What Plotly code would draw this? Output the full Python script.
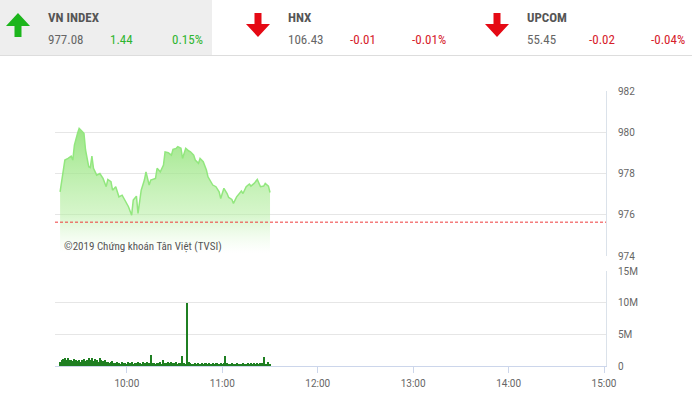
import plotly.graph_objects as go
import pandas as pd

W, H = 692, 396
DAY = "2019-05-20 "

# ---------------- data ----------------
index_times = ["09:18","09:21","09:23","09:25","09:26","09:27","09:29","09:30","09:31","09:33",
               "09:34","09:36","09:37","09:38","09:39","09:41","09:43","09:45","09:47","09:48",
               "09:50","09:51","09:53","09:55","09:57","09:59","10:01","10:03","10:04","10:06",
               "10:07","10:09","10:11","10:12","10:14","10:15","10:18","10:19","10:21","10:23",
               "10:24","10:26","10:28","10:29","10:31","10:32","10:34","10:35","10:37","10:39",
               "10:40","10:42","10:43","10:45","10:46","10:48","10:50","10:51","10:53","10:54",
               "10:56","10:58","10:59","11:01","11:03","11:04","11:06","11:07","11:09","11:11",
               "11:12","11:13","11:15","11:17","11:18","11:20","11:22","11:24","11:26","11:27",
               "11:29","11:30"]
index_values = [977.11,978.65,978.73,978.84,978.65,979.38,979.95,980.19,980.11,979.95,
                979.14,978.33,978.29,978.84,978.25,977.92,978.00,977.76,977.36,977.71,
                977.60,977.19,977.36,976.87,976.95,976.63,976.39,975.98,976.71,976.90,
                976.06,977.19,977.68,978.08,977.44,977.68,977.76,978.25,978.08,978.41,
                979.05,979.01,978.89,979.17,979.22,979.30,979.22,978.73,979.22,979.09,
                979.05,978.89,978.65,978.49,978.73,978.57,978.17,977.84,977.60,977.44,
                977.36,977.11,976.79,977.28,977.03,976.84,976.74,976.55,976.87,977.03,
                977.15,977.03,977.36,977.49,977.39,977.52,977.71,977.36,977.39,977.52,
                977.39,977.08]
reference_value = 975.64

volume_start = "09:18"
volume_millions = [0.7,0.9,1.1,1.3,1.0,1.2,0.9,1.0,0.8,1.1,
                   0.9,0.8,1.0,0.7,0.9,1.1,0.8,1.0,1.3,0.9,
                   1.2,0.8,1.1,1.0,0.7,1.2,0.9,0.8,1.0,0.6,
                   0.7,0.5,0.6,0.8,0.5,0.4,0.7,0.5,0.3,0.6,
                   0.4,0.5,0.3,0.7,0.4,0.6,0.3,0.5,0.4,0.6,
                   0.5,0.3,0.6,0.4,0.5,0.7,0.4,1.8,0.5,0.4,
                   0.3,0.5,0.4,0.6,0.3,0.9,0.4,0.5,0.6,0.4,
                   0.7,0.5,0.4,0.6,0.3,0.5,0.4,1.6,0.5,0.3,
                   10.0,0.6,0.4,0.3,0.2,0.4,0.3,0.5,0.3,0.4,
                   0.3,0.5,0.4,0.3,0.5,0.2,0.4,0.3,0.5,0.4,
                   0.3,0.4,0.2,0.5,1.6,0.4,0.3,0.2,0.4,0.3,
                   0.2,0.5,0.3,0.2,0.3,0.4,0.2,0.3,0.5,0.3,
                   0.4,0.3,0.5,0.3,0.4,0.3,0.5,0.4,1.4,0.3,
                   0.2,0.6,0.3]

x_ticks = ["10:00", "11:00", "12:00", "13:00", "14:00", "15:00"]
y_ticks_index = [974, 976, 978, 980, 982]
y_ticks_vol = [0, 5e6, 10e6, 15e6]
y_ticks_vol_text = ["0", "5M", "10M", "15M"]

header = [
    # name, value, change, pct, up?
    ("VN INDEX", "977.08", "1.44", "0.15%", True),
    ("HNX", "106.43", "-0.01", "-0.01%", False),
    ("UPCOM", "55.45", "-0.02", "-0.04%", False),
]

# ---------------- helpers ----------------
def px(x):
    return x / W

def py(y):
    return 1 - y / H

FONT = "Roboto"
NARROW = "Liberation Sans Narrow, Roboto Condensed, Roboto"
GREEN = "#2fb52f"
RED = "#d6202a"

t_index = pd.to_datetime([DAY + t for t in index_times])
t_vol = pd.date_range(DAY + volume_start, periods=len(volume_millions), freq="min")
vol = [v * 1e6 for v in volume_millions]

x_range = [DAY + "09:14:48", DAY + "15:01:15"]
xdom = [px(55), px(606)]

fig = go.Figure()

fig.add_trace(go.Scatter(
    x=t_index, y=index_values, mode="lines",
    line=dict(color="#92e77e", width=1.5),
    fill="tozeroy",
    fillgradient=dict(type="vertical",
                      colorscale=[[0, "rgba(215,248,205,0)"], [0.3, "rgba(180,238,160,0.55)"],
                                  [1, "rgba(140,225,115,0.9)"]],
                      start=974.1, stop=980.3),
    xaxis="x", yaxis="y", hoverinfo="skip", showlegend=False,
))

fig.add_trace(go.Bar(
    x=t_vol, y=vol, width=45000,
    marker=dict(color="#1f7f22", line=dict(width=0)),
    xaxis="x2", yaxis="y2", hoverinfo="skip", showlegend=False,
))

grid = "#e6e6e6"
border = "#dbe2ea"
tickfont = dict(family=FONT, size=10, color="#666666")

fig.update_layout(
    width=W, height=H,
    margin=dict(l=0, r=0, t=0, b=0, pad=0, autoexpand=False),
    paper_bgcolor="white", plot_bgcolor="white",
    font=dict(family=FONT),
    bargap=0,
    xaxis=dict(domain=xdom, range=x_range, type="date", showticklabels=False,
               showgrid=False, zeroline=False, showline=False, anchor="y", automargin=False),
    yaxis=dict(domain=[py(256), py(91)], range=[974, 982], side="right",
               tickvals=y_ticks_index, gridcolor=grid, zeroline=False,
               showline=True, linecolor=border, linewidth=1, automargin=False,
               tickfont=tickfont, ticklabelstandoff=9, anchor="x"),
    xaxis2=dict(domain=xdom, range=x_range, type="date", anchor="y2",
                tickvals=[DAY + t for t in x_ticks], ticktext=x_ticks,
                showgrid=False, zeroline=False, showline=True, linecolor="#ccd6eb",
                ticks="outside", ticklen=6, tickcolor="#ccd6eb", automargin=False,
                tickfont=tickfont, ticklabelstandoff=2),
    yaxis2=dict(domain=[py(366), py(271)], range=[0, 15e6], side="right",
                tickvals=y_ticks_vol, ticktext=y_ticks_vol_text,
                gridcolor=grid, zeroline=False, showline=True, linecolor=border,
                linewidth=1, tickfont=tickfont, ticklabelstandoff=9, anchor="x2",
                automargin=False),
)

shapes = []
# reference dashed line
shapes.append(dict(type="line", xref="x domain", yref="y", x0=0, x1=1,
                   y0=reference_value, y1=reference_value,
                   line=dict(color="#ee3b3b", width=1, dash="3px,2px")))
# header background box and separator
shapes.append(dict(type="rect", xref="paper", yref="paper", x0=0, x1=px(212),
                   y0=py(55), y1=1, fillcolor="#eeeeee", line=dict(width=0), layer="below"))
shapes.append(dict(type="line", xref="paper", yref="paper", x0=0, x1=1,
                   y0=py(55.5), y1=py(55.5), line=dict(color="#dddddd", width=1)))

def arrow_path(pts, color):
    d = "M " + " L ".join(f"{px(x):.5f},{py(y):.5f}" for x, y in pts) + " Z"
    return dict(type="path", xref="paper", yref="paper", path=d,
                fillcolor=color, line=dict(width=0))

def up_arrow(cx, color):
    pts = [(cx, 13), (cx + 12, 26), (cx + 3.5, 26), (cx + 3.5, 37), (cx - 3.5, 37),
           (cx - 3.5, 26), (cx - 12, 26)]
    return arrow_path(pts, color)

def down_arrow(cx, color):
    pts = [(cx - 3.5, 13), (cx + 3.5, 13), (cx + 3.5, 24), (cx + 12, 24), (cx, 37),
           (cx - 12, 24), (cx - 3.5, 24)]
    return arrow_path(pts, color)

block_x = [0, 240, 479]
annotations = []
for (name, val, chg, pct, up), bx in zip(header, block_x):
    if up:
        shapes.append(up_arrow(bx + 18, "#1cb51c"))
    else:
        shapes.append(down_arrow(bx + 18, "#e50914"))
    col = GREEN if up else RED
    tx = bx + 46
    annotations.append(dict(x=px(tx), y=py(17), xref="paper", yref="paper", text=f"<b>{name}</b>",
                            showarrow=False, xanchor="left", yanchor="middle",
                            font=dict(family=NARROW, size=13, color="#555555")))
    annotations.append(dict(x=px(tx), y=py(40), xref="paper", yref="paper", text=val,
                            showarrow=False, xanchor="left", yanchor="middle",
                            font=dict(family=NARROW, size=13, color="#666666")))
    annotations.append(dict(x=px(tx + 62), y=py(40), xref="paper", yref="paper", text=chg,
                            showarrow=False, xanchor="left", yanchor="middle",
                            font=dict(family=NARROW, size=13, color=col)))
    annotations.append(dict(x=px(tx + 124), y=py(40), xref="paper", yref="paper", text=pct,
                            showarrow=False, xanchor="left", yanchor="middle",
                            font=dict(family=NARROW, size=13, color=col)))

annotations.append(dict(x=px(62), y=py(246), xref="paper", yref="paper",
                        text="©2019 Chứng khoán Tân Việt (TVSI)", showarrow=False,
                        xanchor="left", yanchor="middle",
                        font=dict(family=NARROW, size=11, color="#555555")))

fig.update_layout(shapes=shapes, annotations=annotations)

fig.write_html("out.html", config={"displayModeBar": False},
               post_script="document.body.style.margin='0';document.body.style.overflow='hidden';")
